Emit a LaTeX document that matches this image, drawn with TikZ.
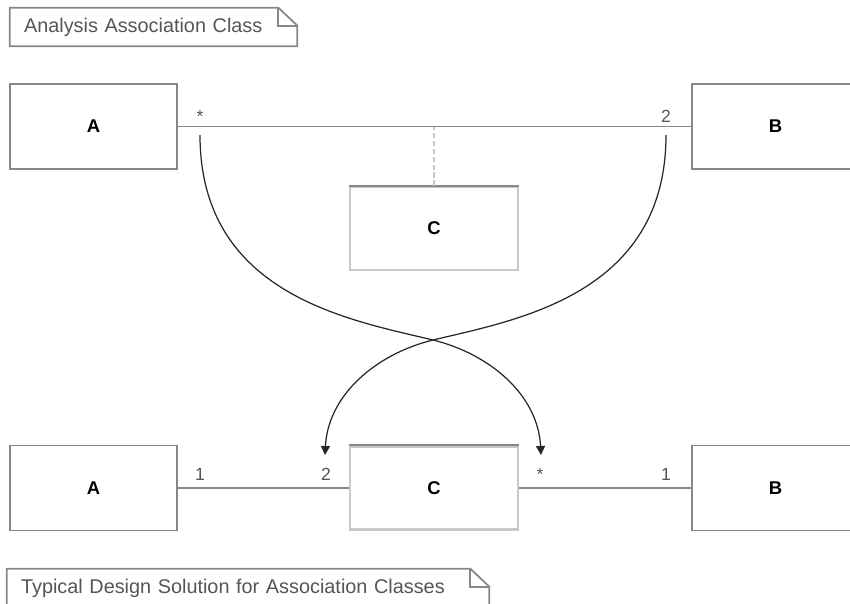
\documentclass[tikz,border=0pt]{standalone}
\usepackage{fontspec}
\setmainfont{Liberation Sans}
\usetikzlibrary{arrows.meta,positioning}
\definecolor{boxgray}{RGB}{135,135,135}
\definecolor{palegray}{RGB}{200,200,200}
\definecolor{labelgray}{RGB}{85,85,85}
\tikzset{
  classbox/.style={draw=boxgray,line width=1.1pt,minimum width=3.34cm,minimum height=1.7cm,font=\bfseries\fontsize{10.5}{12}\selectfont},
  assocbox/.style={draw=palegray,line width=1.6pt,minimum width=3.36cm,minimum height=1.66cm,font=\bfseries\fontsize{10.5}{12}\selectfont},
  notebox/.style={inner xsep=0.28cm,inner ysep=0pt,align=left,minimum height=0.76cm,text=labelgray,font=\fontsize{11.3}{13}\selectfont},
  noteline/.style={draw=boxgray,line width=1pt},
  assocline/.style={draw=boxgray,line width=0.8pt},
  linkline/.style={draw=palegray,line width=1.5pt,dash pattern=on 3pt off 1.5pt},
  mult/.style={anchor=base,inner sep=0pt,text=labelgray,font=\fontsize{10}{12}\selectfont},
  mapping/.style={-{Triangle[length=1.8mm,width=1.8mm]},line width=0.7pt,draw=black!85}
}

\begin{document}
\begin{tikzpicture}[x=0.02cm,y=-0.02cm]
\useasboundingbox (0,0) rectangle (850,603);
% analysis level
\node[notebox,text width=5.18cm] (noteA) at (153.5,27) {Analysis Association Class};
\node[classbox] (A1) at (93.5,126.5) {A};
\node[classbox] (B1) at (775.5,126.5) {B};
\node[assocbox] (C1) at (434,228.5) {C};
\draw[boxgray,line width=1.1pt] (C1.north west)--(C1.north east);
\draw[assocline] (A1)--(B1);
\draw[linkline] (C1.north)--(C1.north |- A1.east);
\node[mult] (mA1) at (200,122) {*};
\node[mult] (mB1) at (666,122) {2};
% design level
\node[classbox] (A2) at (93.5,488) {A};
\node[assocbox] (C2) at (434,488) {C};
\draw[boxgray,line width=1.1pt] (C2.north west)--(C2.north east);
\node[classbox] (B2) at (775.5,488) {B};
\draw[assocline] (A2)--(C2);
\draw[assocline] (C2)--(B2);
\node[mult] (mA2) at (200,480) {1};
\node[mult] (mC2a) at (326,480) {2};
\node[mult] (mC2b) at (540,480) {*};
\node[mult] (mB2) at (666,480) {1};
\node[notebox,text width=9.08cm] (noteB) at (248,588) {Typical Design Solution for Association Classes};
% note outlines
\foreach \n in {noteA,noteB}{
  \draw[noteline] (\n.south west)--(\n.north west)--([xshift=-0.38cm]\n.north east)--([yshift=-0.36cm]\n.north east)--(\n.south east)--cycle;
  \draw[noteline] ([xshift=-0.38cm]\n.north east) |- ([yshift=-0.36cm]\n.north east);
}
% mapping arrows
\coordinate (sA) at (200,135);
\coordinate (sB) at (666,135);
\coordinate (cross) at (433,340);
\coordinate (eA) at (541,455);
\coordinate (eB) at (325,455);
\draw[mapping] (sA) .. controls (200,295) and (350,320) .. (cross) .. controls (490,354) and (538,395) .. (eA);
\draw[mapping] (sB) .. controls (666,295) and (516,320) .. (cross) .. controls (376,354) and (328,395) .. (eB);
\end{tikzpicture}
\end{document}
